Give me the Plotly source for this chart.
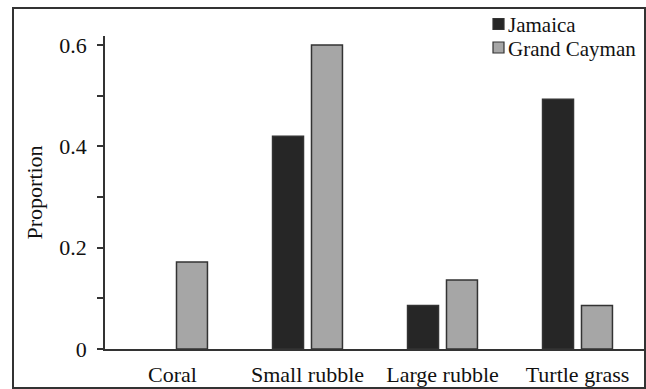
import plotly.graph_objects as go

categories = ["Coral", "Small rubble", "Large rubble", "Turtle grass"]
jamaica = [0.0, 0.42, 0.086, 0.493]
grand_cayman = [0.172, 0.6, 0.136, 0.086]
y_ticks = [0, 0.2, 0.4, 0.6]
y_tick_labels = ["0", "0.2", "0.4", "0.6"]
series_names = ["Jamaica", "Grand Cayman"]

FONT = "Liberation Serif"
LINE = "#333333"
TEXT = "#111111"
COLORS = ["#262626", "#a6a6a6"]

def outline_widths(vals):
    return [0 if v == 0 else 1.5 for v in vals]

fig = go.Figure()
for name, vals, col in zip(series_names, [jamaica, grand_cayman], COLORS):
    fig.add_trace(go.Bar(
        name=name, x=categories, y=vals,
        marker=dict(color=col, line=dict(color=LINE, width=outline_widths(vals))),
    ))

W, H = 646, 389
L, R, T, B = 105, 1, 36, 40
pw, ph = W - L - R, H - T - B

def px(x):
    return (x - L) / pw

def py(y):
    return (H - B - y) / ph

shapes = [dict(
    type="rect", xref="paper", yref="paper",
    x0=px(13), x1=px(645), y0=py(388), y1=py(8),
    line=dict(color=LINE, width=2), fillcolor="rgba(0,0,0,0)", layer="above",
)]
annotations = [dict(
    text="Proportion", xref="paper", yref="paper",
    x=px(34), y=0.5, xanchor="center", yanchor="middle",
    textangle=-90, showarrow=False,
    font=dict(family=FONT, size=22, color=TEXT),
)]

# legend (drawn manually to match the compact row spacing)
leg_x, leg_y0, leg_dy, sq = 493, 24, 23.5, 11
for i, (name, col) in enumerate(zip(series_names, COLORS)):
    cy = leg_y0 + i * leg_dy
    shapes.append(dict(
        type="rect", xref="paper", yref="paper",
        x0=px(leg_x), x1=px(leg_x + sq), y0=py(cy + sq / 2), y1=py(cy - sq / 2),
        line=dict(color=LINE, width=1.2), fillcolor=col, layer="above",
    ))
    annotations.append(dict(
        text=name, xref="paper", yref="paper",
        x=px(leg_x + sq + 3), y=py(cy + 1), xanchor="left", yanchor="middle",
        showarrow=False, borderpad=0,
        font=dict(family=FONT, size=21, color=TEXT),
    ))

fig.update_layout(
    width=W, height=H,
    margin=dict(l=L, r=R, t=T, b=B, pad=0),
    paper_bgcolor="white", plot_bgcolor="white",
    barmode="group", bargap=0.423, bargroupgap=0.205,
    font=dict(family=FONT, size=22, color=TEXT),
    showlegend=False,
    xaxis=dict(
        range=[-0.5, 3.5], showline=True, linecolor=LINE, linewidth=1.5,
        ticks="", showgrid=False, zeroline=False,
        tickfont=dict(family=FONT, size=22, color=TEXT),
        ticklabelstandoff=5,
    ),
    yaxis=dict(
        range=[0, 0.618], showline=True, linecolor=LINE, linewidth=1.5,
        tickmode="array", tickvals=y_ticks, ticktext=y_tick_labels,
        ticks="outside", ticklen=6, tickwidth=1.5, tickcolor=LINE,
        minor=dict(dtick=0.1, ticks="outside", ticklen=6, tickwidth=1.5, tickcolor=LINE, showgrid=False),
        showgrid=False, zeroline=False,
        tickfont=dict(family=FONT, size=22, color=TEXT),
        ticklabelstandoff=6,
    ),
    shapes=shapes,
    annotations=annotations,
)

fig.write_html("out.html")
